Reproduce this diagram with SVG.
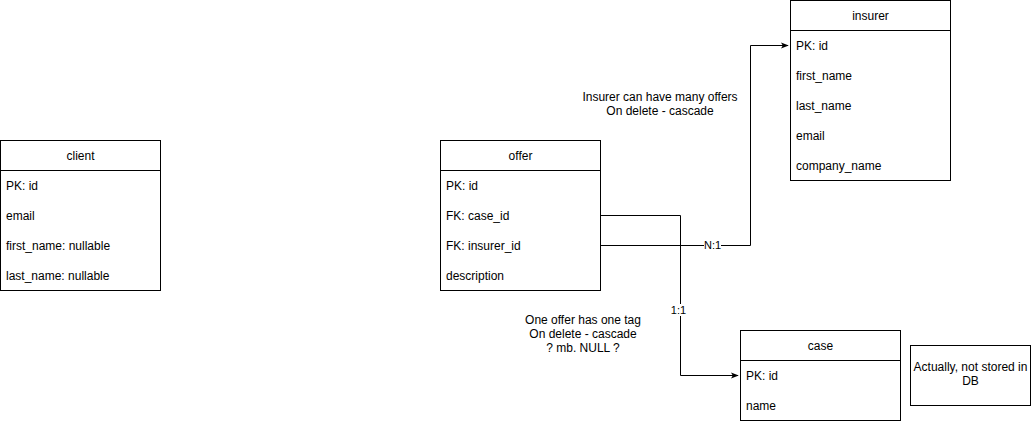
<svg xmlns="http://www.w3.org/2000/svg" width="1031" height="421" viewBox="0 0 1031 421">
<style>
text{font-family:"Liberation Sans",Arial,sans-serif;font-size:12px;fill:#000}
.box{fill:#fff;stroke:#000;stroke-width:1}
.ln{fill:none;stroke:#000;stroke-width:1}
.c{text-anchor:middle}
.edge{fill:none;stroke:#000;stroke-width:1}
.el{font-size:11px}
</style>
<defs>
<marker id="arr" viewBox="0 0 10 10" refX="9" refY="5" markerWidth="8" markerHeight="8" markerUnits="userSpaceOnUse" orient="auto">
<path d="M0,1 L10,5 L0,9 L2.5,5 Z" fill="#000"/>
</marker>
</defs>
<rect width="1031" height="421" fill="#fff"/>
<g id="connectors">
<path class="edge" d="M600.5,215.5 H680.5 V375.5 H738" marker-end="url(#arr)"/>
<path class="edge" d="M600.5,245.5 H750.5 V45.5 H788" marker-end="url(#arr)"/>
<rect x="704" y="239" width="17" height="12" fill="#fff"/>
<text class="c el" x="712.5" y="249">N:1</text>
<rect x="671" y="304" width="15" height="12" fill="#fff"/>
<text class="c el" x="678.5" y="314">1:1</text>
</g>
<g id="client">
<rect class="box" x="0.5" y="140.5" width="160" height="150"/>
<path class="ln" d="M0.5,170.5 H160.5"/>
<text class="c" x="80.5" y="159.5">client</text>
<text x="6" y="189.5">PK: id</text>
<text x="6" y="219.5">email</text>
<text x="6" y="249.5">first_name: nullable</text>
<text x="6" y="279.5">last_name: nullable</text>
</g>
<g id="offer">
<rect class="box" x="440.5" y="140.5" width="160" height="150"/>
<path class="ln" d="M440.5,170.5 H600.5"/>
<text class="c" x="520.5" y="159.5">offer</text>
<text x="446" y="189.5">PK: id</text>
<text x="446" y="219.5">FK: case_id</text>
<text x="446" y="249.5">FK: insurer_id</text>
<text x="446" y="279.5">description</text>
</g>
<g id="insurer">
<rect class="box" x="790.5" y="0.5" width="160" height="180"/>
<path class="ln" d="M790.5,30.5 H950.5"/>
<text class="c" x="870.5" y="19.5">insurer</text>
<text x="796" y="49.5">PK: id</text>
<text x="796" y="79.5">first_name</text>
<text x="796" y="109.5">last_name</text>
<text x="796" y="139.5">email</text>
<text x="796" y="169.5">company_name</text>
</g>
<g id="case">
<rect class="box" x="740.5" y="330.5" width="160" height="90"/>
<path class="ln" d="M740.5,360.5 H900.5"/>
<text class="c" x="820.5" y="349.5">case</text>
<text x="746" y="379.5">PK: id</text>
<text x="746" y="409.5">name</text>
</g>
<g id="note">
<rect class="box" x="910.5" y="345.5" width="120" height="60"/>
<text class="c" x="970.5" y="371">Actually, not stored in</text>
<text class="c" x="970.5" y="385">DB</text>
</g>
<g id="label-insurer">
<text class="c" x="660" y="101">Insurer can have many offers</text>
<text class="c" x="660" y="115">On delete - cascade</text>
</g>
<g id="label-case">
<text class="c" x="583" y="324">One offer has one tag</text>
<text class="c" x="583" y="338">On delete - cascade</text>
<text class="c" x="583" y="352">? mb. NULL ?</text>
</g>
</svg>
